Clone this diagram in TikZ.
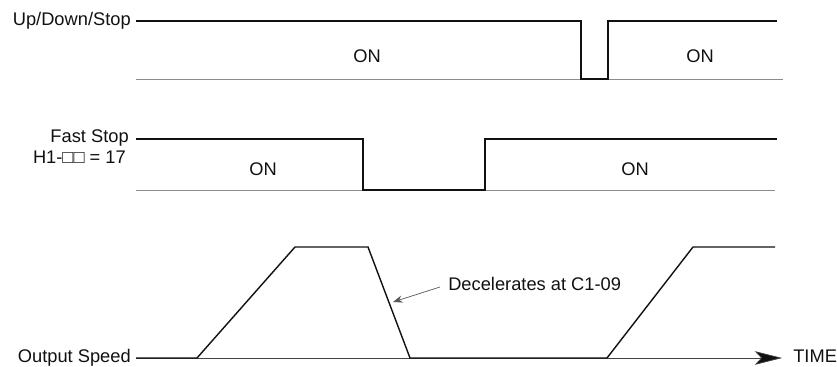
\documentclass[tikz,border=0pt]{standalone}
\usepackage{fontspec}
\setmainfont{Liberation Sans}
\usepackage{tikz}
\usetikzlibrary{arrows.meta,positioning}
\definecolor{ink}{HTML}{111111}
\definecolor{rule}{HTML}{8C8C8C}
\tikzset{
  sig/.style={draw=ink,line width=1pt,line join=miter},
  base/.style={draw=rule,line width=0.55pt},
  axis/.style={draw=ink!80,line width=0.5pt,-{Stealth[length=6.8mm,width=3.4mm,inset=1.6mm,fill=ink]}},
  note/.style={draw=ink!70,line width=0.5pt,-{Stealth[length=2.4mm,width=1.8mm]}},
  lbl/.style={font=\fontsize{13}{15}\selectfont,inner sep=0pt,text=ink},
}
\begin{document}
\begin{tikzpicture}[x=0.025cm,y=-0.025cm]
  \useasboundingbox (0,0) rectangle (837,367);
  % Up/Down/Stop
  \node[lbl,anchor=base east] (uds) at (131,26) {Up/Down/Stop};
  \draw[base] (136,79) -- (783,79);
  \draw[sig] (136,21) -- (581,21) -- (581,79) -- (608,79) -- (608,21) -- (777,21);
  \node[lbl] (on1) at (367,56) {ON};
  \node[lbl] (on2) at (700,56) {ON};

  % Fast Stop
  \node[lbl,anchor=base east] (fst) at (129,143) {Fast Stop};
  \node[lbl,anchor=base east] (hone) at (126,164) {H1-□□ = 17};
  \draw[base] (136,190) -- (775,190);
  \draw[sig] (136,139) -- (363,139) -- (363,190) -- (485,190) -- (485,139) -- (777,139);
  \node[lbl] (on3) at (263,169) {ON};
  \node[lbl] (on4) at (635,169) {ON};

  % Output speed
  \node[lbl,anchor=base east] (osp) at (131,363) {Output Speed};
  \node[lbl,anchor=base west] (time) at (793,363) {TIME};
  \coordinate (ax0) at (136,358);
  \coordinate (ax1) at (782,358);
  \draw[axis] (ax0) -- (ax1);
  \draw[sig] (136,358) -- (197,358) -- (295,247) -- (368,247) -- (410,358) -- (607,358) -- (693,247) -- (775,247);
  \node[lbl,anchor=base west] (dec) at (448,290) {Decelerates at C1-09};
  \coordinate (tip) at (393,302);
  \draw[note] (440,287) -- (tip);
\end{tikzpicture}
\end{document}
